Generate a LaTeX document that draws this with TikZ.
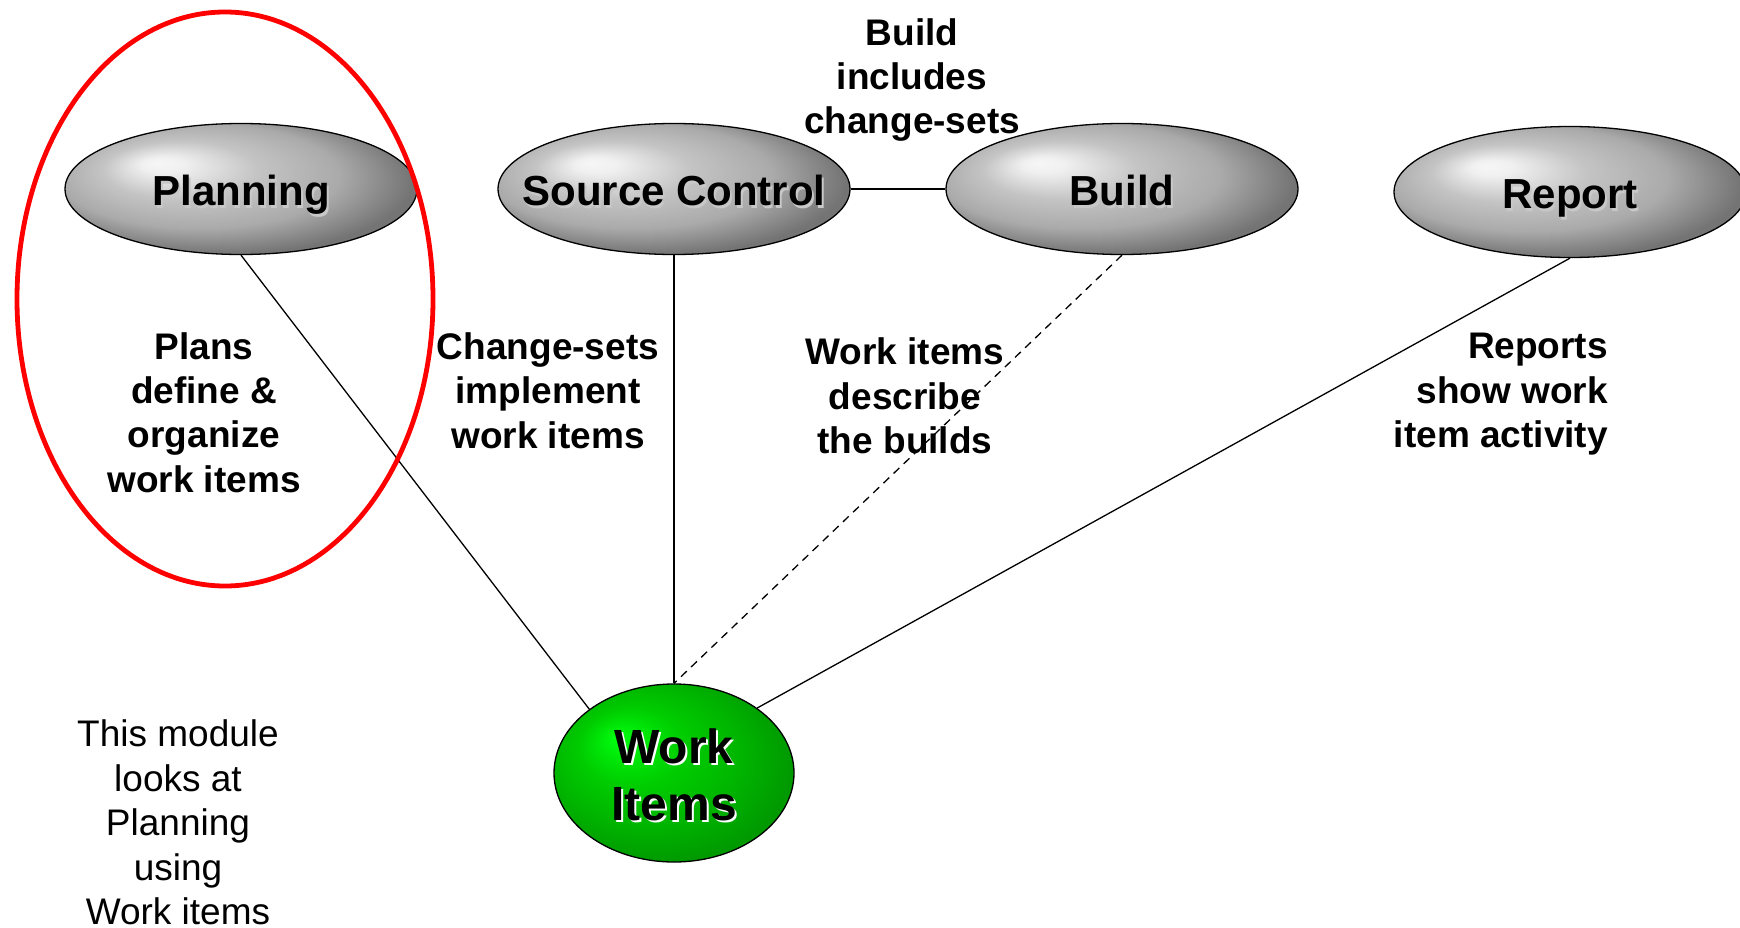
\documentclass[tikz,border=0pt]{standalone}
\usepackage{fontspec}
\setmainfont{Liberation Sans}
\usetikzlibrary{shapes.geometric}
\definecolor{shadowgray}{HTML}{C8C8C8}
\definecolor{gA}{HTML}{F6F6F6}
\definecolor{gB}{HTML}{F0F0F0}
\definecolor{gC}{HTML}{C4C4C4}
\definecolor{gD}{HTML}{AAAAAA}
\definecolor{gE}{HTML}{747474}
\definecolor{gF}{HTML}{6E6E6E}
\definecolor{grA}{HTML}{00FF10}
\definecolor{grB}{HTML}{00F00A}
\definecolor{grC}{HTML}{00CC00}
\definecolor{grD}{HTML}{00B400}
\definecolor{grE}{HTML}{009A00}
\definecolor{grF}{HTML}{009400}
\pgfdeclareradialshading{grayoval}{\pgfpoint{-12bp}{10bp}}{color(0bp)=(gA); color(3bp)=(gB); color(11bp)=(gC); color(20bp)=(gD); color(28bp)=(gE); color(40bp)=(gF)}
\pgfdeclareradialshading{greenoval}{\pgfpoint{-12bp}{10bp}}{color(0bp)=(grA); color(3bp)=(grB); color(11bp)=(grC); color(20bp)=(grD); color(28bp)=(grE); color(40bp)=(grF)}
\newcommand{\shadowtext}[2]{\makebox[0pt][l]{\kern2pt\raisebox{-2pt}{\textcolor{#1}{#2}}}#2}
\tikzset{
  oval/.style={ellipse, draw=black, line width=1.3pt, minimum width=352pt, minimum height=131pt, inner sep=0pt, shading=grayoval},
  ovaltext/.style={font=\bfseries\fontsize{42}{50}\selectfont, inner sep=0pt, anchor=base, yshift=-17pt},
  wioval/.style={ellipse, draw=black, line width=1.3pt, minimum width=240pt, minimum height=178pt, inner sep=0pt, shading=greenoval},
  wilabel/.style={font=\bfseries\fontsize{48}{57}\selectfont, align=center, inner sep=0pt},
  note/.style={font=\bfseries\fontsize{37}{44.4}\selectfont, align=center, inner sep=0pt},
  plainnote/.style={font=\fontsize{37}{44.5}\selectfont, align=center, inner sep=0pt},
  link/.style={line width=1.3pt},
  dashlink/.style={link, dash pattern=on 8pt off 6pt},
  redring/.style={ellipse, draw=red, line width=4.8pt, minimum width=416pt, minimum height=574pt, inner sep=0pt}
}
\begin{document}
\begin{tikzpicture}[x=1pt,y=-1pt]
\useasboundingbox (0,0) rectangle (1740,928);
\fill[white] (0,0) rectangle (1740,928);

% ellipses
\node[oval] (plan) at (241,189) {};
\node[oval] (sc) at (674,189) {};
\node[oval] (build) at (1122,189) {};
\node[oval] (report) at (1570,192) {};
\node[wioval] (wi) at (674,773) {};

% connectors
\draw[link] (plan.south) -- (wi.143);
\draw[link] (sc.south) -- (wi.north);
\draw[dashlink] (build.south) -- (wi.north);
\draw[link] (report.south) -- (wi.38);
\draw[link] (sc.east) -- (build.west);

% ellipse labels
\node[ovaltext] (planlabel) at (plan) {\shadowtext{shadowgray}{Planning}};
\node[ovaltext] (sclabel) at (sc) {\shadowtext{shadowgray}{Source Control}};
\node[ovaltext] (buildlabel) at (build) {\shadowtext{shadowgray}{Build}};
\node[ovaltext] (reportlabel) at (report) {\shadowtext{shadowgray}{Report}};
\node[wilabel] (wilbl) at (674,776) {\shadowtext{white}{Work}\\\shadowtext{white}{Items}};

% notes
\node[note] (buildnote) at (912,80) {Build\\includes\\change-sets};
\node[note] (plansnote) at (204,412.5) {Plans\\define \&\\organize\\work items};
\node[note] (csnote) at (548,390.5) {Change-sets\\implement\\work items};
\node[note] (winote) at (905,396) {Work items\\describe\\the builds};
\node[note, align=right, anchor=east] (reportnote) at (1608,394.5) {Reports\\show work\\item activity};
\node[plainnote] (modulenote) at (178,822.5) {This module\\looks at\\Planning\\using\\Work items};

% highlight ring
\node[redring] (ring) at (225,299) {};
\end{tikzpicture}
\end{document}
